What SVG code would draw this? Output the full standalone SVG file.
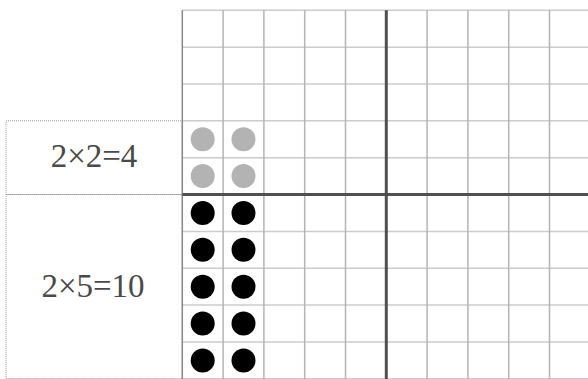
<svg xmlns="http://www.w3.org/2000/svg" width="588" height="379" viewBox="0 0 588 379">
  <style>
    .box { fill: none; stroke: #999999; stroke-width: 1; stroke-dasharray: 1 1; }
    .lbl { font-family: "Liberation Serif", "Times New Roman", serif; font-size: 33px; fill: #4a4a4a; text-anchor: middle; }
    .v { stroke: #b4b4b4; stroke-width: 1.5; }
    .h { stroke: #cccccc; stroke-width: 1.5; }
    .edge { stroke: #888888; stroke-width: 1.5; }
    .thick { stroke: #505050; stroke-width: 3; }
    .gdot { fill: #b3b3b3; }
    .bdot { fill: #000000; }
  </style>
  <rect width="588" height="379" fill="#ffffff"/>

  <g id="label-2x2">
    <rect class="box" x="6" y="120.8" width="176.3" height="73.7"/>
    <text class="lbl" x="94" y="167">2×2=4</text>
  </g>
  <g id="label-2x5">
    <rect class="box" x="6" y="194.5" width="176.3" height="184"/>
    <text class="lbl" x="93" y="297">2×5=10</text>
  </g>

  <g id="grid">
    <g id="h-lines">
      <line class="h" x1="182.3" y1="10.3" x2="588" y2="10.3"/>
      <line class="h" x1="182.3" y1="47.15" x2="588" y2="47.15"/>
      <line class="h" x1="182.3" y1="84" x2="588" y2="84"/>
      <line class="h" x1="182.3" y1="120.85" x2="588" y2="120.85"/>
      <line class="h" x1="182.3" y1="157.7" x2="588" y2="157.7"/>
      <line class="h" x1="182.3" y1="231.4" x2="588" y2="231.4"/>
      <line class="h" x1="182.3" y1="268.25" x2="588" y2="268.25"/>
      <line class="h" x1="182.3" y1="305.1" x2="588" y2="305.1"/>
      <line class="h" x1="182.3" y1="341.95" x2="588" y2="341.95"/>
      <line class="h" x1="182.3" y1="378.8" x2="588" y2="378.8"/>
    </g>
    <g id="v-lines">
      <line class="v" x1="223.1" y1="10.3" x2="223.1" y2="379"/>
      <line class="v" x1="263.9" y1="10.3" x2="263.9" y2="379"/>
      <line class="v" x1="304.7" y1="10.3" x2="304.7" y2="379"/>
      <line class="v" x1="345.5" y1="10.3" x2="345.5" y2="379"/>
      <line class="v" x1="427.1" y1="10.3" x2="427.1" y2="379"/>
      <line class="v" x1="467.9" y1="10.3" x2="467.9" y2="379"/>
      <line class="v" x1="508.7" y1="10.3" x2="508.7" y2="379"/>
      <line class="v" x1="549.5" y1="10.3" x2="549.5" y2="379"/>
      <line class="edge" x1="182.3" y1="10.3" x2="182.3" y2="379"/>
    </g>
    <g id="axes">
      <line class="thick" x1="182.3" y1="194.55" x2="588" y2="194.55"/>
      <line class="thick" x1="386.3" y1="10.3" x2="386.3" y2="379"/>
    </g>
  </g>

  <g id="dots-2x2">
    <circle class="gdot" cx="202.7" cy="139.3" r="12"/>
    <circle class="gdot" cx="243.5" cy="139.3" r="12"/>
    <circle class="gdot" cx="202.7" cy="176.1" r="12"/>
    <circle class="gdot" cx="243.5" cy="176.1" r="12"/>
  </g>
  <g id="dots-2x5">
    <circle class="bdot" cx="202.7" cy="213" r="12"/>
    <circle class="bdot" cx="243.5" cy="213" r="12"/>
    <circle class="bdot" cx="202.7" cy="249.8" r="12"/>
    <circle class="bdot" cx="243.5" cy="249.8" r="12"/>
    <circle class="bdot" cx="202.7" cy="286.7" r="12"/>
    <circle class="bdot" cx="243.5" cy="286.7" r="12"/>
    <circle class="bdot" cx="202.7" cy="323.5" r="12"/>
    <circle class="bdot" cx="243.5" cy="323.5" r="12"/>
    <circle class="bdot" cx="202.7" cy="360.4" r="12"/>
    <circle class="bdot" cx="243.5" cy="360.4" r="12"/>
  </g>
  <g id="connectors"/>
</svg>
